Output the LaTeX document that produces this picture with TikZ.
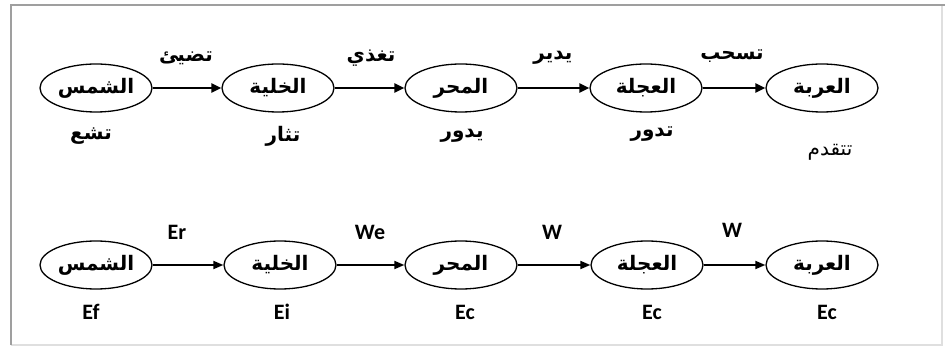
\documentclass[tikz,border=0pt]{standalone}
\usepackage{fontspec}
\usetikzlibrary{shapes.geometric,arrows.meta}
\TeXXeTstate=1
\newfontfamily\arabicfont[Script=Arabic]{DejaVu Sans}
\newfontfamily\latinfont{Carlito}
\newcommand{\ar}[1]{{\arabicfont\bfseries\beginR #1\endR}}
\begin{document}
\begin{tikzpicture}[x=1pt,y=-1pt,
  ell/.style={ellipse,draw,line width=1.3pt,minimum width=112pt,minimum height=48pt,inner sep=0pt,font=\fontsize{20}{22}\selectfont},
  toparrow/.style={-{Triangle[length=10pt,width=9pt]},line width=2.4pt},
  botarrow/.style={-{Triangle[length=10pt,width=8pt]},line width=1.8pt},
  artxt/.style={inner sep=0pt,font=\fontsize{20}{22}\selectfont},
  latxt/.style={inner sep=0pt,font=\latinfont\bfseries\fontsize{22}{24}\selectfont}]
\useasboundingbox (0,0) rectangle (945,347);
\fill[white] (0,0) rectangle (945,347);
\draw[gray!25,line width=1.2pt] (942,5) -- (942,345) -- (11,345);
\draw[gray!75,line width=1.8pt] (11,345) -- (11,5) -- (945,5);
% top row
\node[ell] (a1) at (96,88) {\ar{الشمس}};
\node[ell] (a2) at (278,88) {\ar{الخلية}};
\node[ell] (a3) at (461,88) {\ar{المحر}};
\node[ell] (a4) at (646,88) {\ar{العجلة}};
\node[ell] (a5) at (822,88) {\ar{العربة}};
\draw[toparrow] (a1) -- (a2);
\draw[toparrow] (a2) -- (a3);
\draw[toparrow] (a3) -- (a4);
\draw[toparrow] (a4) -- (a5);
\node[artxt] (t1) at (186,58) {\ar{تضيئ}};
\node[artxt] (t2) at (371,58) {\ar{تغذي}};
\node[artxt] (t3) at (553,58) {\ar{يدير}};
\node[artxt] (t4) at (732,56) {\ar{تسحب}};
\node[artxt] (u1) at (91,136) {\ar{تشع}};
\node[artxt] (u2) at (283,136) {\ar{تثار}};
\node[artxt] (u3) at (462,136) {\ar{يدور}};
\node[artxt] (u4) at (652,134) {\ar{تدور}};
\node[artxt] (u5) at (830,152) {{\arabicfont\beginR تتقدم\endR}};
% bottom row
\node[ell] (b1) at (96,265) {\ar{الشمس}};
\node[ell] (b2) at (280,265) {\ar{الخلية}};
\node[ell] (b3) at (461,265) {\ar{المحر}};
\node[ell] (b4) at (647,265) {\ar{العجلة}};
\node[ell] (b5) at (822,265) {\ar{العربة}};
\draw[botarrow] (b1) -- (b2);
\draw[botarrow] (b2) -- (b3);
\draw[botarrow] (b3) -- (b4);
\draw[botarrow] (b4) -- (b5);
\node[latxt] (e1) at (177,232) {Er};
\node[latxt] (e2) at (370,232) {We};
\node[latxt] (e3) at (552,232) {W};
\node[latxt] (e4) at (732,230) {W};
\node[latxt] (f1) at (91,312) {Ef};
\node[latxt] (f2) at (282,312) {Ei};
\node[latxt] (f3) at (465,312) {Ec};
\node[latxt] (f4) at (652,312) {Ec};
\node[latxt] (f5) at (827,312) {Ec};
\end{tikzpicture}
\end{document}
